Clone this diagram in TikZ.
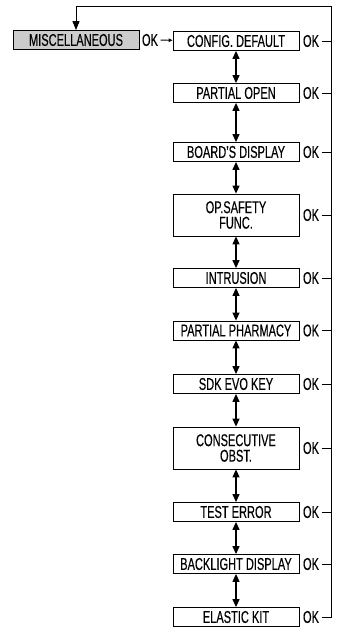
\documentclass[tikz,border=0pt]{standalone}
\usepackage{fontspec}
\setmainfont{Liberation Sans}[FakeStretch=0.65,FakeBold=0.3]
\usetikzlibrary{arrows.meta}

\begin{document}
\begin{tikzpicture}[x=1pt,y=-1pt,
    menubox/.style={draw, line width=0.8pt, minimum width=126pt, minimum height=19pt,
      inner sep=0pt, align=center, font=\fontsize{17}{15.5}\selectfont},
    oklabel/.style={inner sep=0pt, font=\fontsize{17}{15.5}\selectfont},
    updown/.style={{Triangle[width=7pt,length=8pt]}-{Triangle[width=7pt,length=8pt]}, line width=1.2pt},
    okline/.style={line width=0.9pt, shorten <=2.5pt}]
    \useasboundingbox (0,0) rectangle (338,628);

    % Main menu
    \node[menubox, fill=gray!40] (misc) at (76,40) {MISCELLANEOUS};
    \node[oklabel] (ok0) at (150,40) {OK};

    % Sub menus
    \node[menubox] (cfg) at (236,41) {CONFIG. DEFAULT};
    \node[menubox] (popen) at (236,93) {PARTIAL OPEN};
    \node[menubox] (board) at (236,152) {BOARD'S DISPLAY};
    \node[menubox, minimum height=42pt] (safety) at (236,215) {OP.SAFETY\\FUNC.};
    \node[menubox] (intr) at (236,278) {INTRUSION};
    \node[menubox] (pharm) at (236,330.5) {PARTIAL PHARMACY};
    \node[menubox] (sdk) at (236,384) {SDK EVO KEY};
    \node[menubox, minimum height=42pt] (consec) at (236,448) {CONSECUTIVE\\OBST.};
    \node[menubox] (testerr) at (236,512) {TEST ERROR};
    \node[menubox] (backl) at (236,564) {BACKLIGHT DISPLAY};
    \node[menubox] (elastic) at (236,617) {ELASTIC KIT};

    % OK labels
    \node[oklabel] (ok1) at (311,41) {OK};
    \node[oklabel] (ok2) at (311,93) {OK};
    \node[oklabel] (ok3) at (311,152) {OK};
    \node[oklabel] (ok4) at (311,215) {OK};
    \node[oklabel] (ok5) at (311,278) {OK};
    \node[oklabel] (ok6) at (311,330.5) {OK};
    \node[oklabel] (ok7) at (311,384) {OK};
    \node[oklabel] (ok8) at (311,448) {OK};
    \node[oklabel] (ok9) at (311,512) {OK};
    \node[oklabel] (ok10) at (311,564) {OK};
    \node[oklabel] (ok11) at (311,617) {OK};

    % Enter sub menu
    \draw[okline, -{Triangle[width=3.5pt,length=4pt]}] (ok0) -- (cfg);

    % Scroll arrows
    \draw[updown] (cfg) -- (popen);
    \draw[updown] (popen) -- (board);
    \draw[updown] (board) -- (safety);
    \draw[updown] (safety) -- (intr);
    \draw[updown] (intr) -- (pharm);
    \draw[updown] (pharm) -- (sdk);
    \draw[updown] (sdk) -- (consec);
    \draw[updown] (consec) -- (testerr);
    \draw[updown] (testerr) -- (backl);
    \draw[updown] (backl) -- (elastic);

    % Return rail
    \coordinate (railtop) at (331,6);
    \draw[okline] (ok1.east) -- (ok1.east -| railtop);
    \draw[okline] (ok2.east) -- (ok2.east -| railtop);
    \draw[okline] (ok3.east) -- (ok3.east -| railtop);
    \draw[okline] (ok4.east) -- (ok4.east -| railtop);
    \draw[okline] (ok5.east) -- (ok5.east -| railtop);
    \draw[okline] (ok6.east) -- (ok6.east -| railtop);
    \draw[okline] (ok7.east) -- (ok7.east -| railtop);
    \draw[okline] (ok8.east) -- (ok8.east -| railtop);
    \draw[okline] (ok9.east) -- (ok9.east -| railtop);
    \draw[okline] (ok10.east) -- (ok10.east -| railtop);
    \draw[okline, -{Triangle[width=7pt,length=9pt]}] (ok11.east) -- (ok11.east -| railtop)
      -- (railtop) -| (misc.north);
\end{tikzpicture}
\end{document}
